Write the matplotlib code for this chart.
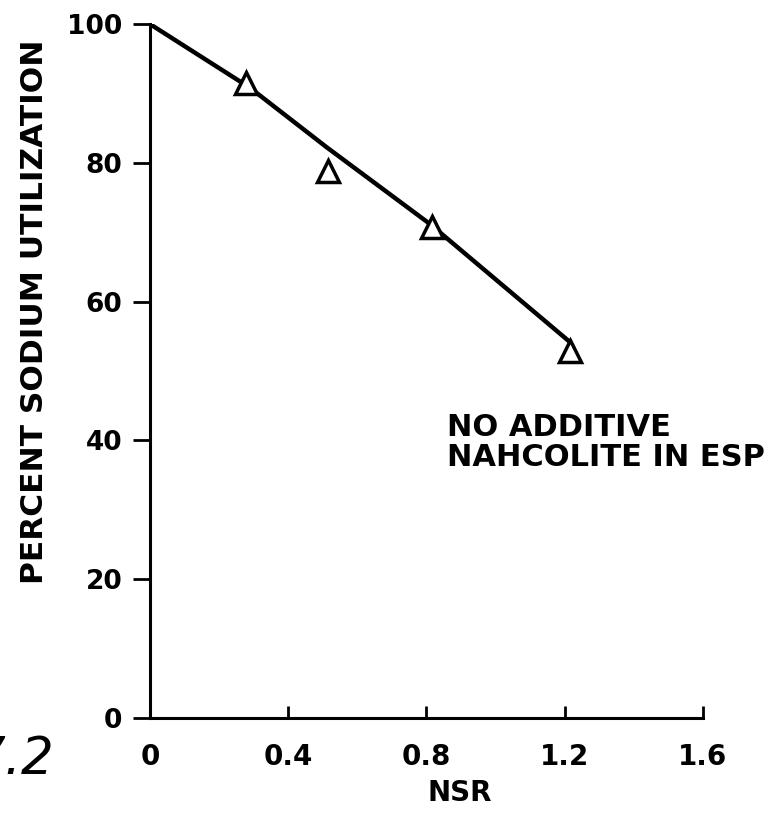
import matplotlib
matplotlib.use("Agg")
import matplotlib.pyplot as plt

# Data
line_x = [0.0, 0.29, 0.51, 0.81, 1.215]
line_y = [100.0, 90.8, 82.3, 71.2, 54.2]
pts_x = [0.278, 0.516, 0.815, 1.215]
pts_y = [91.5, 78.8, 70.7, 52.9]
xticks = [0, 0.4, 0.8, 1.2, 1.6]
xtick_labels = ["0", "0.4", "0.8", "1.2", "1.6"]
yticks = [0, 20, 40, 60, 80, 100]
ytick_labels = ["0", "20", "40", "60", "80", "100"]

plt.rcParams['font.family'] = ['DejaVu Sans']

fig = plt.figure(figsize=(7.69, 8.16), dpi=100)
ax = fig.add_axes([0.195, 0.120, 0.719, 0.8505])

ax.plot(line_x, line_y, color='black', lw=3.2, solid_capstyle='round',
        solid_joinstyle='round', zorder=2)
ax.plot(pts_x, pts_y, linestyle='none', marker='^', markersize=16,
        markerfacecolor='white', markeredgecolor='black', markeredgewidth=2.5, zorder=3)

ax.set_xlim(0, 1.6)
ax.set_ylim(0, 100)
ax.spines['top'].set_visible(False)
ax.spines['right'].set_visible(False)
for s in ['left', 'bottom']:
    ax.spines[s].set_linewidth(2.2)

ax.set_xticks(xticks)
ax.set_xticklabels(xtick_labels, fontsize=20, fontweight='bold')
ax.set_yticks(yticks)
ax.set_yticklabels(ytick_labels, fontsize=19, fontweight='bold')
ax.tick_params(axis='x', which='major', direction='in', length=9, width=2.0, pad=18)
ax.tick_params(axis='y', which='major', direction='out', length=12, width=2.0, pad=8)
ax.set_xticks([0], minor=True)
ax.tick_params(axis='x', which='minor', direction='out', length=11, width=2.2, labelbottom=False)

ax.set_xlabel("NSR", fontsize=20, fontweight='bold')
ax.xaxis.set_label_coords(0.56, -0.088)
ax.set_ylabel("PERCENT SODIUM UTILIZATION", fontsize=22.5, fontweight='bold')
ax.yaxis.set_label_coords(-0.183, 0.585)

ax.text(0.86, 44.0, "NO ADDITIVE\nNAHCOLITE IN ESP", fontsize=22, fontweight='bold',
        ha='left', va='top', linespacing=1.04)

fig.text(-0.036, 0.038, "7.2", fontsize=37, style='italic',
         ha='left', va='bottom')

fig.savefig("out.png", dpi=100)
